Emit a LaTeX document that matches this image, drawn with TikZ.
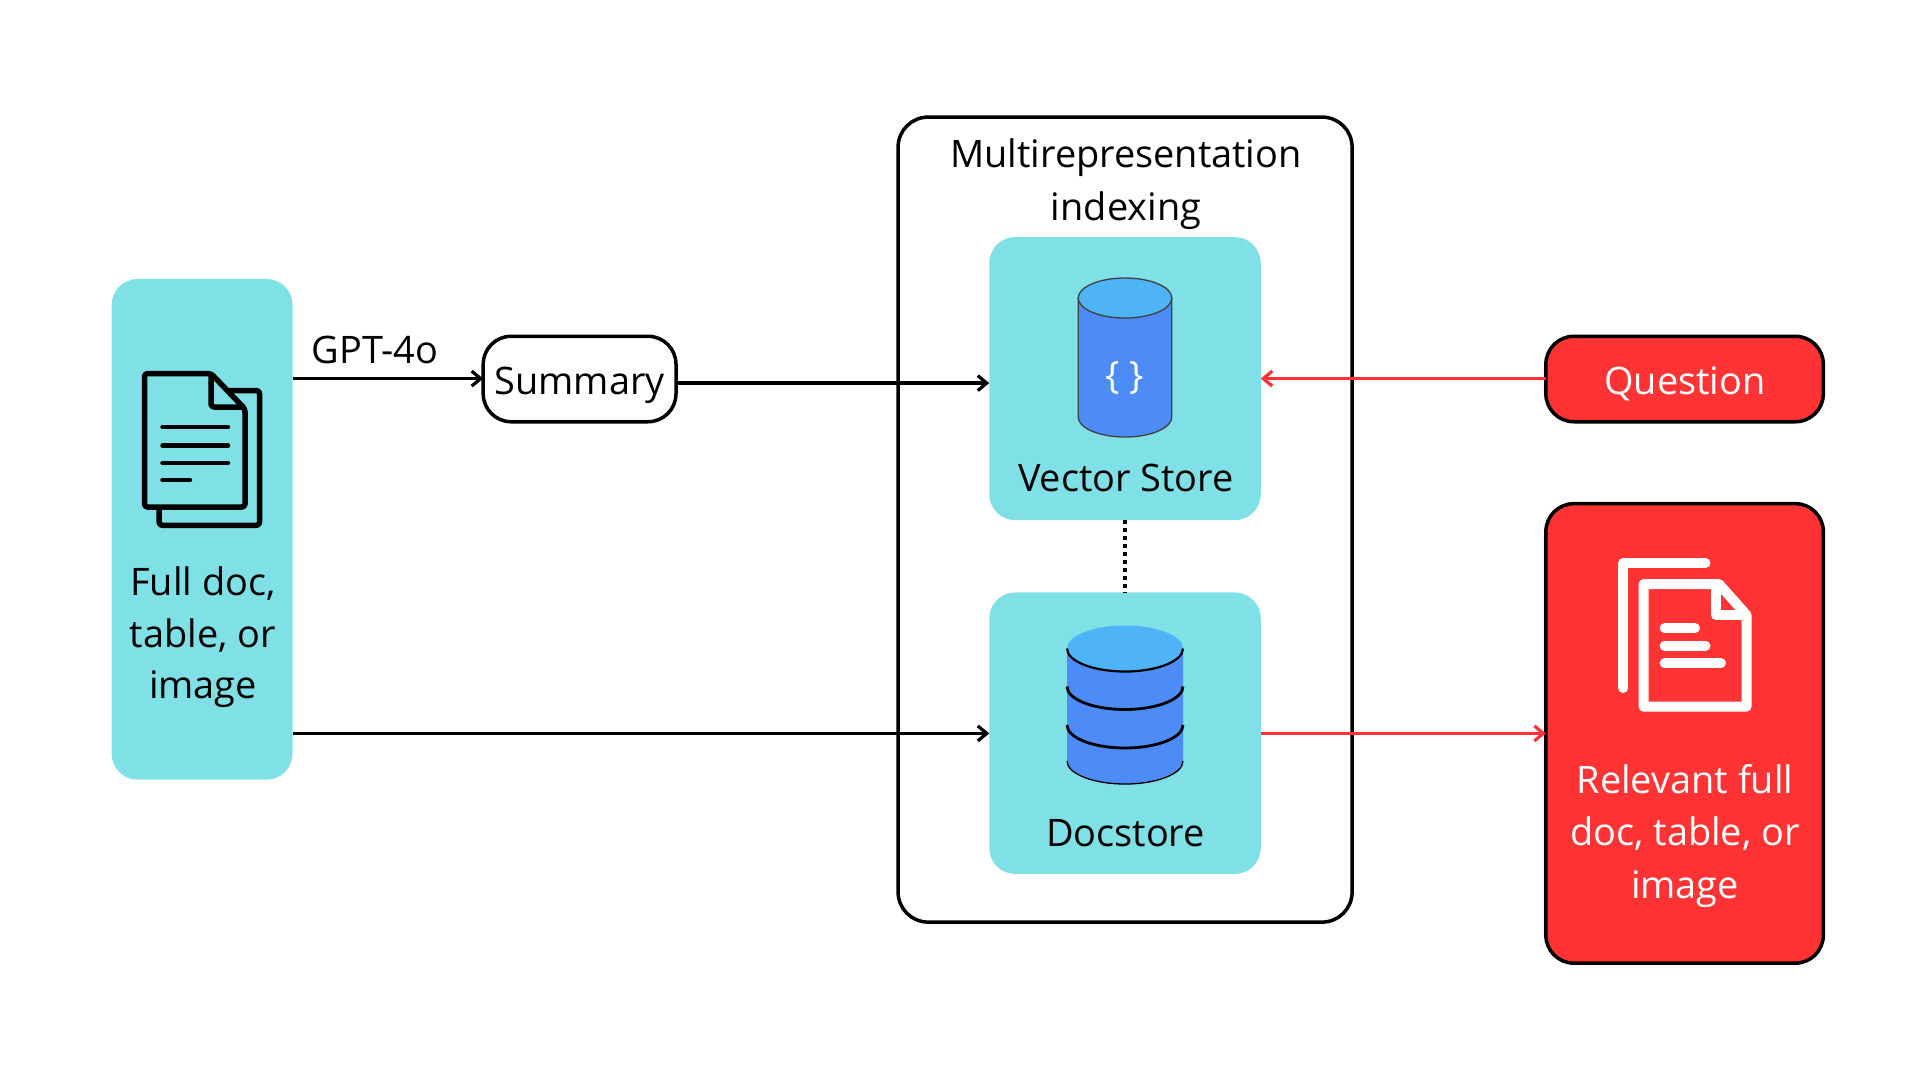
\documentclass[tikz,border=0pt]{standalone}
\usepackage{fontspec}
\setmainfont{Open Sans}
\usetikzlibrary{arrows.meta}
\definecolor{tealbox}{HTML}{7FE0E6}
\definecolor{redbox}{HTML}{FF3333}
\definecolor{bluebody}{HTML}{4D8BF7}
\definecolor{bluetop}{HTML}{4FB3F7}
\begin{document}
\begin{tikzpicture}%
[x=1pt,y=-1pt,font=\fontsize{37.9}{52.5}\selectfont,%
panel/.style={fill=tealbox, rounded corners=26pt, inner sep=0pt, outer sep=0pt},%
pill/.style={draw=black, line width=3.5pt, rounded corners=28pt, inner sep=0pt, outer sep=0pt},%
caption/.style={align=center, inner sep=0pt},%
link/.style={line width=3.5pt, -{Straight Barb[length=9pt,width=15pt,line width=3.2pt]}},%
redlink/.style={draw=redbox, line width=3.5pt, -{Straight Barb[length=9pt,width=15pt,line width=3.2pt]}},%
ink/.style={line width=5.5pt, line join=round, rounded corners=3pt},%
rule/.style={line width=4.5pt, line cap=round},%
whiterule/.style={draw=white, line width=10pt, line cap=round}]
\useasboundingbox (0,0) rectangle (1920,1080);
\fill[white] (0,0) rectangle (1920,1080);

% boxes
\node[draw=black, line width=3.5pt, rounded corners=30pt, inner sep=0pt, outer sep=0pt,%
  minimum width=454pt, minimum height=805pt] (index) at (1125.1,519.6) {};
\coordinate (upper) at (0,378.6);
\coordinate (middle) at (0,383.1);
\coordinate (lower) at (0,733.4);
\node[panel, minimum width=180.9pt, minimum height=500.7pt] (fulldoc) at (202.1,529.3) {};
\node[pill, fill=white, minimum width=192.8pt, minimum height=85.5pt] (summary) at (579.6,379) {};
\node[panel, minimum width=271.5pt, minimum height=283pt] (vector) at (1125,378.6) {};
\node[panel, minimum width=271.5pt, minimum height=281.5pt] (docstore) at (1125,733.2) {};
\node[pill, fill=redbox, minimum width=277.5pt, minimum height=85.5pt] (question) at (1684.6,379) {};
\node[pill, fill=redbox, minimum width=277.5pt, minimum height=459.5pt] (relevant) at (1684.6,733.4) {};

% connectors
\draw[link] (fulldoc.east |- upper) -- (summary.west |- upper);
\draw[link] (summary.east |- middle) -- (vector.west |- middle);
\draw[link] (fulldoc.east |- lower) -- (docstore.west |- lower);
\draw[redlink] (question.west |- upper) -- (vector.east |- upper);
\draw[redlink] (docstore.east |- lower) -- (relevant.west |- lower);
\draw[line width=4pt, dash pattern=on 4pt off 4pt] (vector.south) -- (docstore.north);

% texts
\node[caption] (gpt) at (375,349.5) {GPT-4o};
\node[caption] (summarytext) at (579.7,385) {Summary};
\node[caption] (fulltext) at (203,637.5) {Full doc,\\[-1pt]table, or\\[-1pt]image};
\node[caption] (indextext) at (1126,184.2) {Multirepresentation\\[0.9pt]indexing};
\node[caption] (vectortext) at (1126,478) {Vector Store};
\node[caption] (docstoretext) at (1125.5,833) {Docstore};
\node[caption, text=white] (questiontext) at (1685,383.5) {Question};
\node[caption, text=white] (relevanttext) at (1685,836) {Relevant full\\doc, table, or\\image};

% page icon, left
\draw[ink] (229,390.5) -- (259.5,390.5) -- (259.5,525.3) -- (159.2,525.3) -- (159.2,508);
\draw[ink] (144.5,373.5) -- (211,373.5) -- (245,409) -- (245,507) -- (144.5,507) -- cycle;
\draw[ink] (211,373.5) -- (211,407) -- (245,407);
\foreach \liney/\lineend in {427/228,445.7/228,463/228,480/190}
  \draw[rule] (162.5,\liney) -- (\lineend,\liney);

% vector cylinder
\draw[fill=bluebody, draw=black!75, line width=1.3pt] (1078.2,298) -- (1078.2,417)%
  arc[start angle=180, end angle=0, x radius=46.8, y radius=20]%
  -- (1171.8,298) -- cycle;
\draw[fill=bluetop, draw=black!75, line width=1.3pt] (1125,298) ellipse[x radius=46.8, y radius=20];
\node[caption, text=white, font=\fontsize{38}{42}\selectfont] (braces) at (1125,378) {\{ \}};

% docstore stack
\fill[bluebody] (1067,648.5) -- (1067,761)%
  arc[start angle=180, end angle=0, x radius=58, y radius=23.4]%
  -- (1183,648.5) -- cycle;
\fill[bluetop] (1125,648.5) ellipse[x radius=58, y radius=23];
\foreach \stacky/\stackw in {648.5/2.2,686.5/2.8,725/2.8,761/1.3}
  \draw[line width=\stackw pt] (1067,\stacky) arc[start angle=180, end angle=0, x radius=58, y radius=23];

% page icon, right
\draw[draw=white, line width=10pt, line cap=round, line join=round] (1623.3,688) -- (1623.3,563) -- (1705.5,563);
\draw[draw=white, line width=10pt, line join=round] (1643.6,584) -- (1719,584) -- (1746.5,615) -- (1746.5,706.7) -- (1643.6,706.7) -- cycle;
\draw[draw=white, line width=10pt, line join=round] (1716,584) -- (1716,615) -- (1746.5,615);
\foreach \rulex/\ruley in {1695/628.3,1705.5/645.6,1721/663.3}
  \draw[whiterule] (1664.6,\ruley) -- (\rulex,\ruley);
\end{tikzpicture}
\end{document}
